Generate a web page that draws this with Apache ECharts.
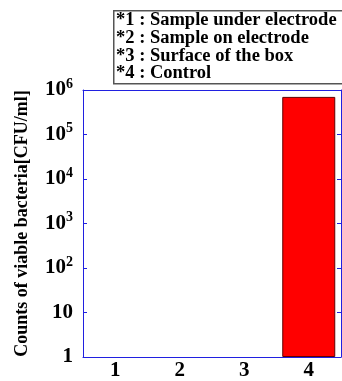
<!DOCTYPE html>
<html><head><meta charset="utf-8">
<script src="https://cdn.jsdelivr.net/npm/echarts@6/dist/echarts.min.js"></script>
<style>html,body{margin:0;padding:0;background:#fff}#c{width:342px;height:381px}</style>
</head><body><div id="c"></div>
<script>
const categories = ['1', '2', '3', '4'];
const counts = [0, 0, 0, 7.0e5];
const legendLines = ['*1 : Sample under electrode', '*2 : Sample on electrode', '*3 : Surface of the box', '*4 : Control'];
const yTicks = [1, 10, 100, 1000, 10000, 100000, 1000000];

const F = '"Liberation Serif", "Times New Roman", serif';
const AX = '#2020e0';
const chart = echarts.init(document.getElementById('c'), null, {renderer: 'canvas'});

function fmt(v) {
  const e = Math.round(Math.log10(v));
  if (e === 0) return '1';
  if (e === 1) return '10';
  return '{b|10}{s|' + e + '}';
}

chart.setOption({
  animation: false,
  grid: {left: 83, top: 90, right: 1, bottom: 22, containLabel: false},
  xAxis: [{
    type: 'category', data: categories, position: 'bottom',
    axisLine: {lineStyle: {color: AX, width: 1}},
    axisTick: {inside: true, length: 4, lineStyle: {color: AX}},
    axisLabel: {fontFamily: F, fontWeight: 'bold', fontSize: 21, color: '#000', margin: 3}
  }, {
    type: 'category', data: categories, position: 'top',
    axisLine: {lineStyle: {color: AX, width: 1}},
    axisTick: {inside: true, length: 4, lineStyle: {color: AX}},
    axisLabel: {show: false}
  }],
  yAxis: [{
    type: 'log', logBase: 10, min: 1, max: 1e6,
    axisLine: {show: true, lineStyle: {color: AX}},
    axisTick: {show: true, inside: true, length: 4, lineStyle: {color: AX}},
    splitLine: {show: false},
    axisLabel: {
      formatter: fmt, margin: 10,
      fontFamily: F, fontWeight: 'bold', fontSize: 21, color: '#000',
      rich: {
        b: {fontFamily: F, fontWeight: 'bold', fontSize: 21, color: '#000'},
        s: {fontFamily: F, fontWeight: 'bold', fontSize: 14, color: '#000', verticalAlign: 'top', padding: [0, 0, 12, 0]}
      }
    },
    name: 'Counts of viable bacteria[CFU/ml]', nameLocation: 'middle', nameGap: 52,
    nameTextStyle: {fontFamily: F, fontWeight: 'bold', fontSize: 18, color: '#000'}
  }, {
    type: 'log', logBase: 10, min: 1, max: 1e6, position: 'right',
    axisLine: {show: true, lineStyle: {color: AX}},
    axisTick: {show: true, inside: true, length: 4, lineStyle: {color: AX}},
    splitLine: {show: false},
    axisLabel: {show: false}
  }],
  series: [{
    type: 'bar', xAxisIndex: 0, yAxisIndex: 0,
    data: counts.map(v => v > 0 ? v : '-'),
    barWidth: 53,
    itemStyle: {color: '#ff0000', borderColor: '#600000', borderWidth: 1}
  }],
  graphic: [{
    type: 'rect', left: 113, top: 10, z: 100,
    shape: {width: 240, height: 73},
    style: {fill: '#fff', stroke: '#555', lineWidth: 1.5}
  }].concat(legendLines.map((t, i) => ({
    type: 'text', left: 116, top: 11 + i * 17.7, z: 101,
    style: {text: t, fontFamily: F, fontWeight: 'bold', fontSize: 18.5, fill: '#000'}
  })))
});
</script></body></html>
